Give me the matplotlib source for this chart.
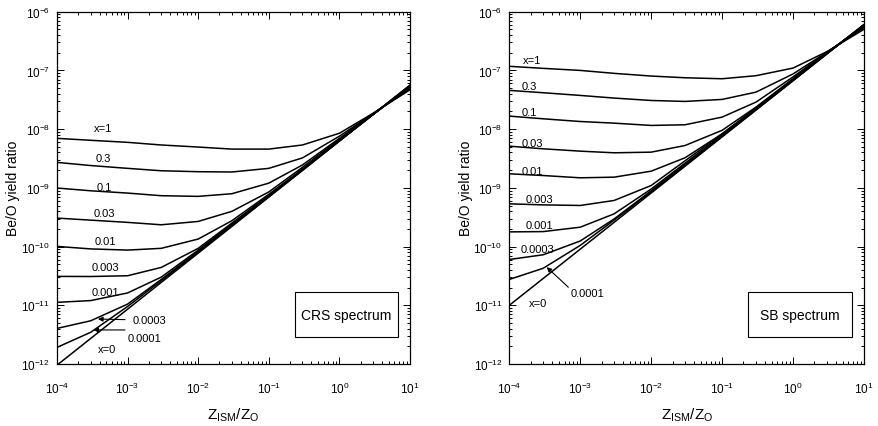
import numpy as np
import matplotlib
matplotlib.use("Agg")
import matplotlib.pyplot as plt
from matplotlib.patches import Rectangle
from matplotlib.ticker import NullFormatter

plt.rcParams['font.family'] = ['Liberation Sans', 'DejaVu Sans']
plt.rcParams['mathtext.default'] = 'regular'
plt.rcParams['axes.unicode_minus'] = False

# ---------------- data (log10 of Be/O yield ratio) ----------------
z_ism = [1e-4, 3e-4, 1e-3, 3e-3, 1e-2, 3e-2, 1e-1, 3e-1, 1.0, 3.0, 10.0]

x_values = ['1', '0.3', '0.1', '0.03', '0.01', '0.003', '0.001', '0.0003', '0.0001', '0']

# CRS spectrum
crs_x1     = [-8.157, -8.19, -8.225, -8.27, -8.305, -8.34, -8.34, -8.27, -8.07, -7.73, -7.33]
crs_x03    = [-8.566, -8.62, -8.668, -8.709, -8.725, -8.73, -8.668, -8.49, -8.12, -7.735, -7.31]
crs_x01    = [-9.003, -9.05, -9.089, -9.134, -9.145, -9.10, -8.92, -8.61, -8.157, -7.74, -7.29]
crs_x003   = [-9.515, -9.55, -9.588, -9.629, -9.572, -9.40, -9.07, -8.65, -8.17, -7.745, -7.28]
crs_x001   = [-9.997, -10.04, -10.06, -10.03, -9.872, -9.56, -9.11, -8.68, -8.185, -7.75, -7.275]
crs_x0003  = [-10.508, -10.51, -10.497, -10.355, -10.03, -9.60, -9.13, -8.685, -8.19, -7.75, -7.27]
crs_x0001  = [-10.95, -10.92, -10.79, -10.52, -10.06, -9.62, -9.14, -8.69, -8.195, -7.75, -7.265]
crs_x00003 = [-11.394, -11.264, -10.98, -10.56, -10.08, -9.635, -9.145, -8.695, -8.20, -7.75, -7.26]
crs_x00001 = [-11.717, -11.46, -11.02, -10.58, -10.095, -9.645, -9.15, -8.70, -8.20, -7.75, -7.255]
crs_x0     = [-12.02, -11.565, -11.066, -10.61, -10.112, -9.657, -9.158, -8.703, -8.204, -7.749, -7.25]

# SB spectrum
sb_x1     = [-6.93, -6.965, -7.0, -7.05, -7.096, -7.125, -7.142, -7.09, -6.96, -6.68, -6.30]
sb_x03    = [-7.34, -7.38, -7.426, -7.471, -7.512, -7.528, -7.494, -7.37, -7.06, -6.69, -6.27]
sb_x01    = [-7.778, -7.824, -7.87, -7.898, -7.937, -7.926, -7.795, -7.54, -7.11, -6.695, -6.25]
sb_x003   = [-8.29, -8.335, -8.375, -8.403, -8.392, -8.279, -8.02, -7.625, -7.14, -6.70, -6.24]
sb_x001   = [-8.761, -8.79, -8.829, -8.818, -8.716, -8.488, -8.08, -7.64, -7.15, -6.705, -6.235]
sb_x0003  = [-9.272, -9.29, -9.30, -9.215, -8.96, -8.54, -8.08, -7.65, -7.16, -6.71, -6.23]
sb_x0001  = [-9.75, -9.745, -9.67, -9.443, -9.02, -8.58, -8.10, -7.655, -7.165, -6.71, -6.225]
sb_x00003 = [-10.22, -10.14, -9.905, -9.53, -9.05, -8.60, -8.115, -7.665, -7.17, -6.712, -6.222]
sb_x00001 = [-10.56, -10.37, -9.98, -9.55, -9.07, -8.62, -8.125, -7.67, -7.172, -6.715, -6.22]
sb_x0     = [-11.0, -10.544, -10.044, -9.588, -9.088, -8.632, -8.132, -7.676, -7.176, -6.72, -6.22]

crs_curves = [crs_x1, crs_x03, crs_x01, crs_x003, crs_x001, crs_x0003,
              crs_x0001, crs_x00003, crs_x00001, crs_x0]
sb_curves = [sb_x1, sb_x03, sb_x01, sb_x003, sb_x001, sb_x0003,
             sb_x0001, sb_x00003, sb_x00001, sb_x0]

panel_titles = ['CRS spectrum', 'SB spectrum']
xlabel = r'$Z_{ISM}/Z_{O}$'
ylabel = 'Be/O yield ratio'

# ---------------- figure ----------------
W, H = 879, 427
fig = plt.figure(figsize=(W / 100, H / 100), dpi=100)
ax1 = fig.add_axes([57 / W, 62 / H, 353 / W, 352.3 / H])
ax2 = fig.add_axes([509.3 / W, 62 / H, 354.7 / W, 352.3 / H])

for ax, curves in ((ax1, crs_curves), (ax2, sb_curves)):
    for c in curves:
        ax.plot(z_ism, 10.0 ** np.array(c), color='black', lw=1.1)
    ax.set_xscale('log')
    ax.set_yscale('log')
    ax.set_xlim(1e-4, 10)
    ax.set_ylim(1e-12, 1e-6)
    ax.xaxis.set_minor_formatter(NullFormatter())
    ax.yaxis.set_minor_formatter(NullFormatter())
    ax.tick_params(which='both', direction='in', top=True, right=True,
                   labelsize=8.5, width=0.7)
    ax.tick_params(which='major', length=5)
    ax.tick_params(which='minor', length=2.5)
    ax.tick_params(axis='x', which='both', pad=12)
    ax.tick_params(axis='y', which='both', pad=5)
    for s in ax.spines.values():
        s.set_linewidth(0.9)

# axis labels
for cx in (233.5, 686.7):
    fig.text(cx / W, (H - 415) / H, xlabel, ha='center', va='center', fontsize=11)
for cx in (13, 466):
    fig.text(cx / W, (H - 188) / H, ylabel, ha='center', va='center',
             rotation=90, fontsize=10)

# boxes with spectrum names
for ax, title in ((ax1, panel_titles[0]), (ax2, panel_titles[1])):
    ax.add_patch(Rectangle((0.674, 0.077), 0.292, 0.127, transform=ax.transAxes,
                           fill=False, lw=0.8, color='black'))
    ax.text(0.82, 0.14, title, transform=ax.transAxes, ha='center', va='center',
            fontsize=10)

# curve labels, left panel (centered)
crs_label_pos = [(-3.35, -7.981), (-3.34, -8.492), (-3.33, -8.981), (-3.33, -9.429),
                 (-3.32, -9.911), (-3.32, -10.354), (-3.32, -10.78)]
crs_label_txt = ['x=' + x_values[0]] + x_values[1:7]
for (lx, ly), t in zip(crs_label_pos, crs_label_txt):
    ax1.text(10 ** lx, 10 ** ly, t, ha='center', va='center', fontsize=8)
ax1.text(10 ** -3.29, 10 ** -11.746, 'x=' + x_values[9], ha='center', va='center', fontsize=8)
ax1.text(10 ** -2.924, 10 ** -11.252, x_values[7], ha='left', va='center', fontsize=8)
ax1.text(10 ** -2.994, 10 ** -11.559, x_values[8], ha='left', va='center', fontsize=8)
arrow_kw = dict(arrowstyle='-|>', lw=0.8, color='black', mutation_scale=7,
                shrinkA=0, shrinkB=0)
ax1.annotate('', xy=(10 ** -3.42, 10 ** -11.235), xytext=(10 ** -3.037, 10 ** -11.244),
             arrowprops=arrow_kw)
ax1.annotate('', xy=(10 ** -3.486, 10 ** -11.42), xytext=(10 ** -3.037, 10 ** -11.42),
             arrowprops=arrow_kw)

# curve labels, right panel (left aligned)
sb_label_pos = [(-3.81, -6.83), (-3.83, -7.266), (-3.83, -7.71), (-3.83, -8.233),
                (-3.83, -8.705), (-3.77, -9.187), (-3.77, -9.63), (-3.84, -10.04)]
sb_label_txt = ['x=' + x_values[0]] + x_values[1:8]
for (lx, ly), t in zip(sb_label_pos, sb_label_txt):
    ax2.text(10 ** lx, 10 ** ly, t, ha='left', va='center', fontsize=8)
ax2.text(10 ** -3.137, 10 ** -10.795, x_values[8], ha='left', va='center', fontsize=8)
ax2.text(10 ** -3.73, 10 ** -10.965, 'x=' + x_values[9], ha='left', va='center', fontsize=8)
ax2.annotate('', xy=(10 ** -3.473, 10 ** -10.351), xytext=(10 ** -3.168, 10 ** -10.692),
             arrowprops=arrow_kw)

fig.savefig('out.png', dpi=100)
